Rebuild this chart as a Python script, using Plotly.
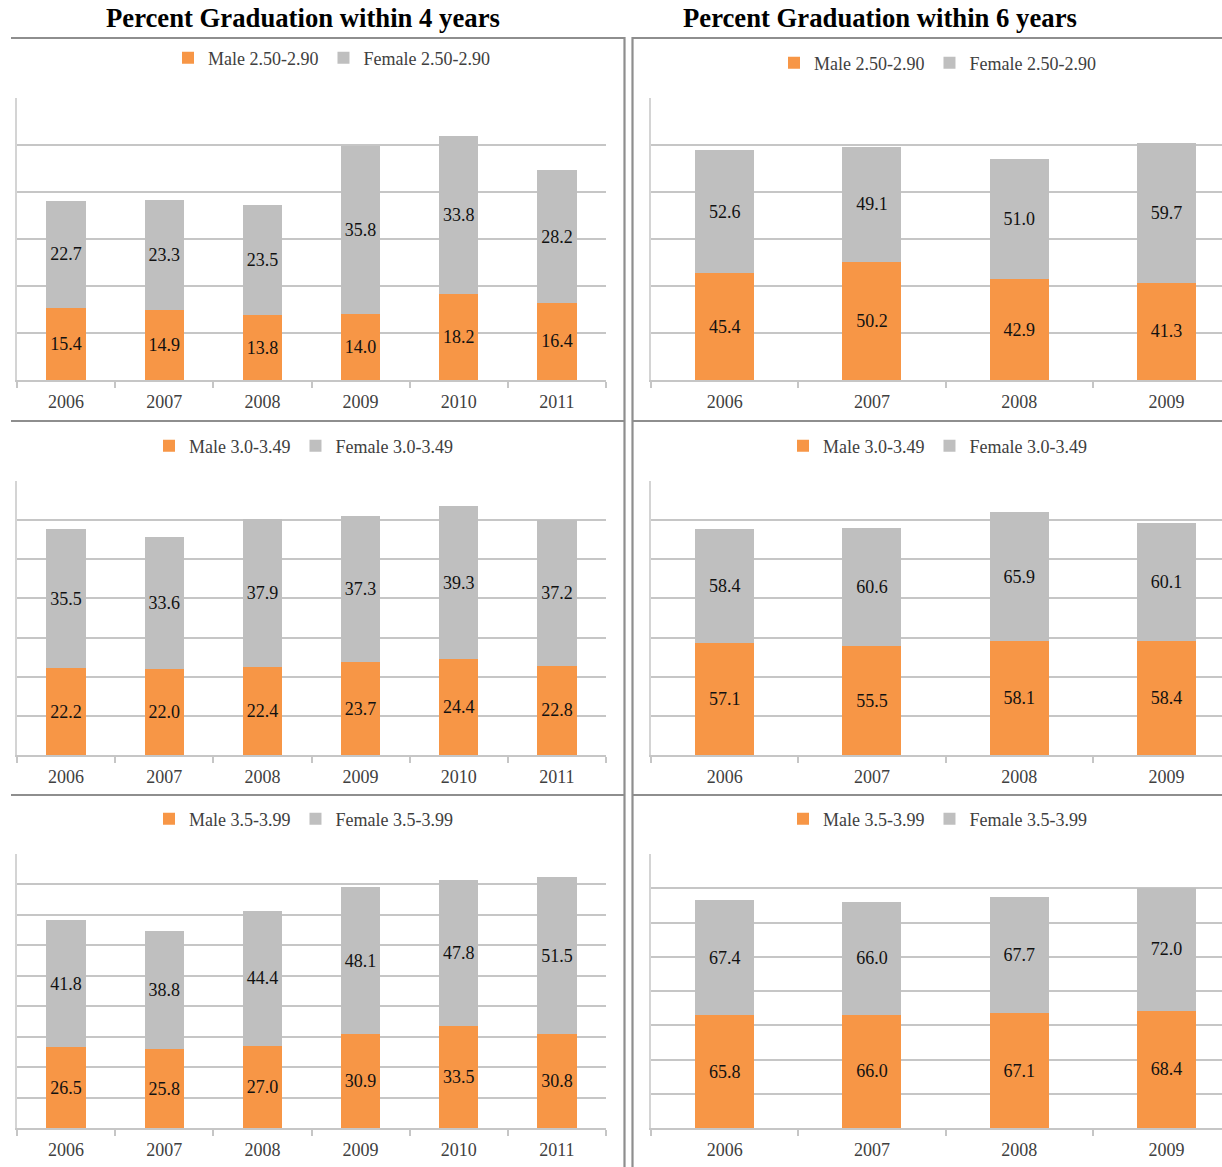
import plotly.graph_objects as go
from plotly.subplots import make_subplots

# ---------------- data ----------------
years4 = ["2006", "2007", "2008", "2009", "2010", "2011"]
years6 = ["2006", "2007", "2008", "2009"]
gpa_bands = ["2.50-2.90", "3.0-3.49", "3.5-3.99"]

male4_250 = [15.4, 14.9, 13.8, 14.0, 18.2, 16.4]
female4_250 = [22.7, 23.3, 23.5, 35.8, 33.8, 28.2]
male4_300 = [22.2, 22.0, 22.4, 23.7, 24.4, 22.8]
female4_300 = [35.5, 33.6, 37.9, 37.3, 39.3, 37.2]
male4_350 = [26.5, 25.8, 27.0, 30.9, 33.5, 30.8]
female4_350 = [41.8, 38.8, 44.4, 48.1, 47.8, 51.5]

male6_250 = [45.4, 50.2, 42.9, 41.3]
female6_250 = [52.6, 49.1, 51.0, 59.7]
male6_300 = [57.1, 55.5, 58.1, 58.4]
female6_300 = [58.4, 60.6, 65.9, 60.1]
male6_350 = [65.8, 66.0, 67.1, 68.4]
female6_350 = [67.4, 66.0, 67.7, 72.0]

titles = ["Percent Graduation within 4 years", "Percent Graduation within 6 years"]

# ---------------- styling ----------------
W, H = 1222, 1167
ORANGE = "#F79646"
GREY = "#BFBFBF"
GRID = "#C6C6C6"
BORDER = "#8E8E8E"
FONT = "Liberation Serif"
TXT = "#404040"


def fx(px):
    return px / W


def fy(py):
    return 1 - py / H


fig = make_subplots(rows=3, cols=2)

panels = [
    (1, 1, years4, male4_250, female4_250, gpa_bands[0], 60, 10),
    (1, 2, years6, male6_250, female6_250, gpa_bands[0], 120, 20),
    (2, 1, years4, male4_300, female4_300, gpa_bands[1], 70, 10),
    (2, 2, years6, male6_300, female6_300, gpa_bands[1], 140, 20),
    (3, 1, years4, male4_350, female4_350, gpa_bands[2], 90, 10),
    (3, 2, years6, male6_350, female6_350, gpa_bands[2], 160, 20),
]

# plot-area pixel boxes
row_y = {1: (98, 380), 2: (481, 755), 3: (854, 1128)}
col_x = {1: (17, 606), 2: (651, 1222)}
legend_y = {(1, 1): 58, (1, 2): 63, (2, 1): 446, (2, 2): 446, (3, 1): 819, (3, 2): 819}
legend_left = {(1, 1): 168, (1, 2): 774, (2, 1): 149, (2, 2): 783, (3, 1): 149, (3, 2): 783}

for (r, c, cats, male, female, band, ymax, dt) in panels:
    idx = (r - 1) * 2 + c
    lg = "legend" if idx == 1 else f"legend{idx}"
    for name, vals, col in (("Male " + band, male, ORANGE), ("Female " + band, female, GREY)):
        fig.add_trace(
            go.Bar(
                x=cats, y=vals, name=name, marker=dict(color=col, line=dict(width=0)),
                text=[f"{v:.1f}" for v in vals], textposition="inside",
                insidetextanchor="middle", textangle=0, constraintext="none",
                textfont=dict(family=FONT, size=18, color="#111111"),
                legend=lg, hoverinfo="skip",
            ),
            row=r, col=c,
        )
    x0, x1 = col_x[c]
    y0, y1 = row_y[r]
    xa = "xaxis" if idx == 1 else f"xaxis{idx}"
    ya = "yaxis" if idx == 1 else f"yaxis{idx}"
    n = len(cats)
    if c == 1:
        xr = [-0.5, n - 0.5]
    else:
        step = (1240 - 651) / n
        xr = [-0.5, -0.5 + (1222 - 651) / step]
    fig.layout[xa].update(
        domain=[fx(x0), fx(x1)], range=xr, type="category",
        showline=True, linecolor=GRID, linewidth=1.6,
        ticks="outside", tickson="boundaries", ticklen=6, tickcolor=GRID, tickwidth=1.5,
        ticklabelstandoff=5,
        showgrid=False, tickfont=dict(family=FONT, size=18, color=TXT),
        fixedrange=True,
    )
    fig.layout[ya].update(
        domain=[fy(y1), fy(y0)], range=[0, ymax], dtick=dt, showticklabels=False,
        showgrid=True, gridcolor=GRID, gridwidth=1.6, zeroline=False,
        showline=True, linecolor="#D4D4D4", linewidth=2, ticks="", fixedrange=True,
    )
    fig.layout[lg] = dict(
        orientation="h", x=fx(legend_left[(r, c)]), y=fy(legend_y[(r, c)]),
        xanchor="left", yanchor="middle", bgcolor="rgba(0,0,0,0)",
        font=dict(family=FONT, size=18, color=TXT), traceorder="normal",
        itemclick=False, itemdoubleclick=False,
    )

# panel titles
for txt, cx in zip(titles, (303, 880)):
    fig.add_annotation(
        text=f"<b>{txt}</b>", x=fx(cx), y=fy(18), xref="paper", yref="paper",
        showarrow=False, xanchor="center", yanchor="middle",
        font=dict(family=FONT, size=26.7, color="#000000"),
    )

# panel frames
lines = [
    (11, 38, 625, 38), (632, 38, W, 38),
    (11, 421, 625, 421), (632, 421, W, 421),
    (11, 795, 625, 795), (632, 795, W, 795),
    (624.5, 37, 624.5, H), (632.5, 37, 632.5, H),
]
for (xa0, ya0, xa1, ya1) in lines:
    fig.add_shape(type="line", xref="paper", yref="paper",
                  x0=fx(xa0), y0=fy(ya0), x1=fx(xa1), y1=fy(ya1),
                  line=dict(color=BORDER, width=2.2))

fig.update_layout(
    width=W, height=H, margin=dict(l=0, r=0, t=0, b=0),
    barmode="stack", bargap=0.6,
    paper_bgcolor="white", plot_bgcolor="white",
    font=dict(family=FONT, color=TXT), hovermode=False,
)

fig.write_html(
    "out.html", config={"displayModeBar": False, "staticPlot": False},
    post_script="document.body.style.margin='0';document.body.style.overflow='hidden';",
)
